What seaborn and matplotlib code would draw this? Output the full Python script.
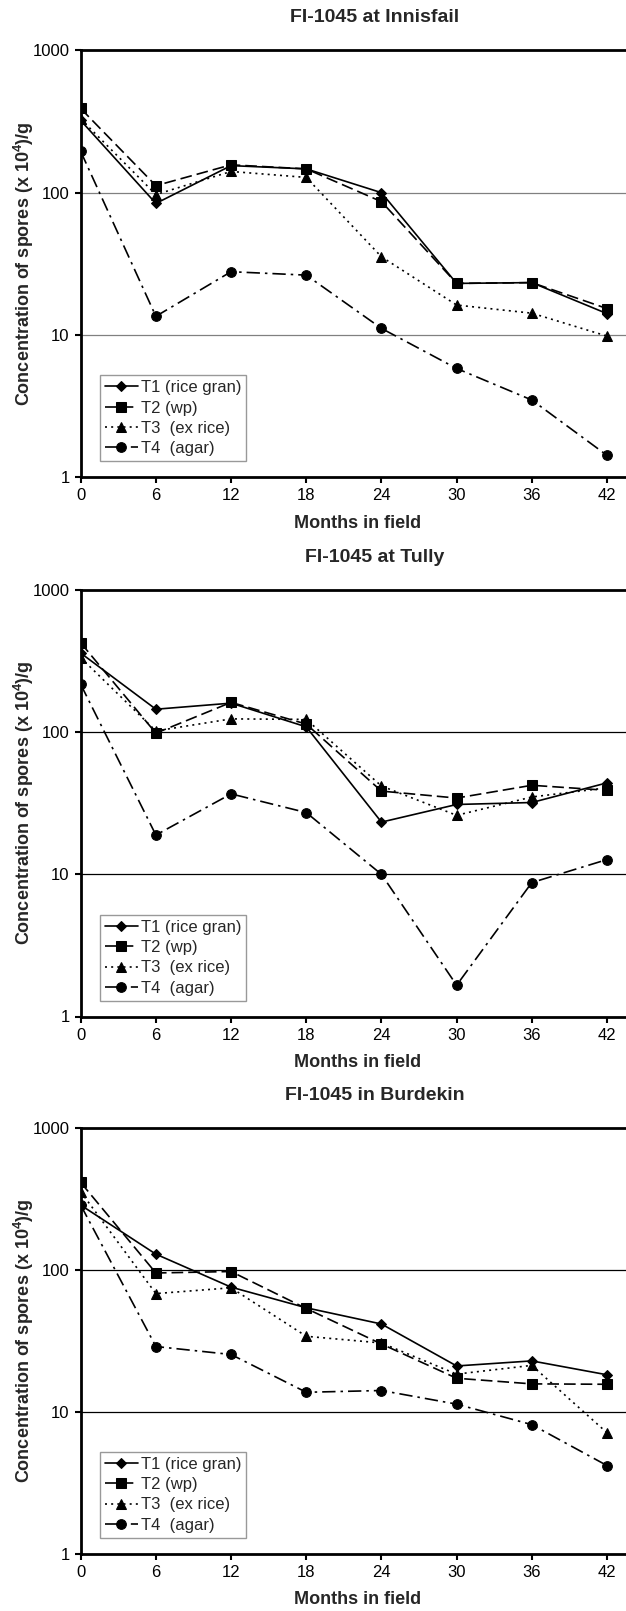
import matplotlib
matplotlib.use("Agg")
import matplotlib.pyplot as plt
import seaborn as sns
import pandas as pd
import numpy as np

months = [0, 6, 12, 18, 24, 30, 36, 42]
series_names = ["T1 (rice gran)", "T2 (wp)", "T3  (ex rice)", "T4  (agar)"]

# Innisfail
inn_t1 = [322, 84, 155, 147, 100, 23, 23.3, 14.1]
inn_t2 = [391, 112, 157, 147, 86.5, 23, 23.3, 15.3]
inn_t3 = [330, 97, 141, 128, 35.4, 16.2, 14.2, 9.8]
inn_t4 = [195, 13.5, 27.8, 26.3, 11.1, 5.8, 3.48, 1.42]

# Tully
tul_t1 = [360, 145, 160, 109, 23.3, 31, 32, 44]
tul_t2 = [425, 98.4, 162, 114, 38.5, 34.4, 42.3, 39]
tul_t3 = [334, 102, 124, 123, 41.8, 26, 35, 40.6]
tul_t4 = [217, 18.9, 36.8, 27.2, 10, 1.66, 8.75, 12.7]

# Burdekin
bur_t1 = [286, 129, 75.5, 54, 41.5, 21, 22.8, 18.2]
bur_t2 = [413, 95, 97.3, 53.4, 30, 17.2, 15.7, 15.6]
bur_t3 = [355, 68, 74.7, 34, 30.5, 18.4, 21.2, 7.1]
bur_t4 = [286, 28.8, 25.3, 13.7, 14.1, 11.3, 8.1, 4.17]

titles = ["FI-1045 at Innisfail", "FI-1045 at Tully", "FI-1045 in Burdekin"]
panels = [
    [inn_t1, inn_t2, inn_t3, inn_t4],
    [tul_t1, tul_t2, tul_t3, tul_t4],
    [bur_t1, bur_t2, bur_t3, bur_t4],
]
grid_colors = ["#808080", "#000000", "#000000"]

sns.set_theme(style="white")
plt.rcParams["font.family"] = ["Liberation Sans", "DejaVu Sans"]
plt.rcParams["mathtext.fontset"] = "custom"
plt.rcParams["mathtext.rm"] = "Liberation Sans"
plt.rcParams["mathtext.bf"] = "Liberation Sans:bold"

W, H = 626, 1611
fig = plt.figure(figsize=(W / 100, H / 100), dpi=100)

styles = [
    dict(linestyle="-", marker="D", markersize=5),
    dict(linestyle=(0, (7, 3)), marker="s", markersize=6.5),
    dict(linestyle=(0, (1.2, 2.5)), marker="^", markersize=7),
    dict(linestyle=(0, (8, 3, 1.5, 3)), marker="o", markersize=7),
]

left_px, right_px = 80.7, 640.0
x42_px = 607.0
xmax = 42 * (right_px - left_px) / (x42_px - left_px)
axes_px = [(50.5, 477.0), (590.0, 1016.5), (1128.0, 1553.5)]

for i, (title, data) in enumerate(zip(titles, panels)):
    top, bot = axes_px[i]
    ax = fig.add_axes([left_px / W, 1 - bot / H, (right_px - left_px) / W, (bot - top) / H])
    rows = []
    for name, vals in zip(series_names, data):
        for m, v in zip(months, vals):
            rows.append({"month": m, "value": v, "series": name})
    df = pd.DataFrame(rows)
    for j, name in enumerate(series_names):
        sub = df[df["series"] == name]
        sns.lineplot(data=sub, x="month", y="value", ax=ax, color="black",
                     linewidth=1.2, markeredgecolor="black", markerfacecolor="black",
                     label=name, zorder=3, **styles[j])
    ax.set_yscale("log")
    ax.set_ylim(1, 1000)
    ax.set_xlim(0, xmax)
    ax.set_xticks(months)
    ax.set_xticklabels([str(m) for m in months])
    ax.set_yticks([1, 10, 100, 1000])
    ax.set_yticklabels(["1", "10", "100", "1000"])
    ax.yaxis.set_minor_locator(matplotlib.ticker.NullLocator())
    for yv in [10, 100]:
        ax.axhline(yv, color=grid_colors[i], linewidth=0.9, zorder=1)
    ax.tick_params(axis="both", which="major", direction="out", length=4, width=1.5,
                   labelsize=12, colors="black", pad=4, left=True, bottom=True)
    for s in ["left", "bottom", "top"]:
        ax.spines[s].set_visible(True)
        ax.spines[s].set_linewidth(2)
        ax.spines[s].set_color("black")
    ax.spines["right"].set_visible(False)
    ax.set_xlabel("")
    ax.set_ylabel("")
    leg = ax.legend(loc="lower left", bbox_to_anchor=(0.034, 0.037), frameon=True,
                    fancybox=False, edgecolor="#808080", fontsize=12,
                    handlelength=2.0, handletextpad=0.15, borderpad=0.3,
                    labelspacing=0.32, borderaxespad=0)
    leg.get_frame().set_linewidth(1.0)
    fig.text(375 / W, 1 - (top - 33) / H, title, ha="center", va="center",
             fontsize=14, fontweight="bold")
    fig.text(358 / W, 1 - (bot + 46) / H, "Months in field", ha="center", va="center",
             fontsize=13, fontweight="bold")
    fig.text(24 / W, 1 - ((top + bot) / 2) / H,
             r"Concentration of spores (x 10$^{\mathbf{4}}$)/g",
             ha="center", va="center", rotation=90, fontsize=13, fontweight="bold")

fig.savefig("out.png", dpi=100)
